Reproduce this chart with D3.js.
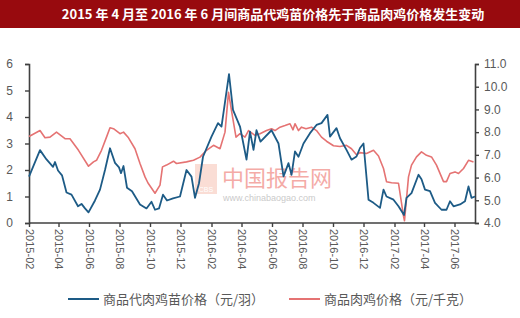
<!DOCTYPE html>
<html>
<head>
<meta charset="utf-8">
<script src="https://cdn.jsdelivr.net/npm/d3@7"></script>
<style>
  body { margin: 0; background: #fff; }
  .canvas text { font-family: "Liberation Sans", Arial, "Noto Sans CJK SC", sans-serif; }
</style>
</head>
<body>
<div class="canvas"></div>
<script>
// 商品代肉鸡苗价格（元/羽）, left axis
const chickDates = ["2015-02-01","2015-02-23","2015-03-08","2015-03-15","2015-03-21","2015-03-25","2015-03-31","2015-04-08","2015-04-17","2015-04-27","2015-05-10","2015-05-17","2015-05-24","2015-05-31","2015-06-13","2015-06-23","2015-07-03","2015-07-13","2015-07-23","2015-07-31","2015-08-04","2015-08-09","2015-08-16","2015-08-26","2015-09-11","2015-09-24","2015-10-04","2015-10-11","2015-10-19","2015-10-27","2015-11-04","2015-11-16","2015-11-30","2015-12-13","2015-12-23","2015-12-30","2016-01-07","2016-01-15","2016-02-01","2016-02-14","2016-02-21","2016-03-07","2016-03-15","2016-03-29","2016-04-11","2016-04-18","2016-04-25","2016-05-01","2016-05-09","2016-05-31","2016-06-14","2016-06-24","2016-07-04","2016-07-10","2016-07-17","2016-07-24","2016-08-03","2016-08-16","2016-08-29","2016-09-08","2016-09-20","2016-09-25","2016-10-08","2016-10-15","2016-10-28","2016-11-07","2016-11-17","2016-11-24","2016-12-01","2016-12-11","2016-12-21","2017-01-03","2017-01-10","2017-01-16","2017-01-30","2017-02-09","2017-02-20","2017-02-25","2017-03-07","2017-03-21","2017-03-27","2017-04-03","2017-04-13","2017-04-23","2017-05-06","2017-05-16","2017-05-23","2017-05-30","2017-06-12","2017-06-22","2017-06-29","2017-07-05","2017-07-12"];
const chickPrice = [1.75,2.75,2.4,2.25,2.12,2.3,1.98,1.8,1.15,1.07,0.63,0.72,0.55,0.4,0.85,1.26,2.0,2.82,2.27,2.1,1.88,2.15,1.33,1.2,0.7,0.55,0.8,0.5,0.55,1.07,0.85,0.93,1.0,2.0,1.75,0.95,1.5,2.5,3.26,3.77,3.64,5.62,4.27,3.64,2.39,3.45,2.76,3.5,3.07,3.5,3.0,1.76,2.26,1.82,2.7,2.5,3.0,3.39,3.7,3.77,4.08,3.26,3.58,3.2,2.76,2.39,2.51,2.83,3.0,0.88,0.76,0.57,1.26,1.0,0.88,0.63,0.3,0.95,1.13,1.82,1.65,1.26,1.2,0.76,0.5,0.5,0.82,0.63,0.7,0.82,1.38,0.95,1.0];

// 商品肉鸡价格（元/千克）, right axis
const broilerDates = ["2015-02-01","2015-02-23","2015-03-05","2015-03-15","2015-03-28","2015-04-14","2015-04-24","2015-05-11","2015-05-31","2015-06-10","2015-06-16","2015-06-26","2015-07-06","2015-07-13","2015-07-20","2015-08-02","2015-08-09","2015-08-19","2015-09-01","2015-09-11","2015-09-21","2015-09-27","2015-10-11","2015-10-21","2015-10-26","2015-11-03","2015-11-17","2015-11-23","2015-12-13","2015-12-27","2016-01-09","2016-01-22","2016-02-05","2016-02-18","2016-02-28","2016-03-06","2016-03-12","2016-03-21","2016-03-29","2016-04-08","2016-04-15","2016-04-28","2016-05-08","2016-05-21","2016-05-31","2016-06-07","2016-06-17","2016-06-27","2016-07-07","2016-07-13","2016-07-17","2016-07-24","2016-07-30","2016-08-08","2016-08-19","2016-08-29","2016-09-08","2016-09-18","2016-10-02","2016-10-15","2016-10-28","2016-11-07","2016-11-17","2016-11-24","2016-12-07","2016-12-21","2016-12-31","2017-01-10","2017-01-16","2017-01-26","2017-02-09","2017-02-19","2017-02-21","2017-03-01","2017-03-07","2017-03-17","2017-03-27","2017-04-06","2017-04-16","2017-04-26","2017-05-10","2017-05-16","2017-05-23","2017-06-02","2017-06-09","2017-06-19","2017-06-29","2017-07-09"];
const broilerPrice = [7.81,8.07,7.75,7.78,8.0,7.71,7.71,7.2,6.5,6.69,6.76,7.2,7.78,8.19,8.15,7.93,8.0,7.75,7.27,6.62,6.03,5.76,5.31,5.67,6.47,6.55,6.72,6.62,6.69,6.76,6.9,7.2,7.42,7.27,8.0,9.75,8.95,7.78,7.93,7.78,8.07,7.86,7.93,8.07,8.15,8.07,8.22,8.29,8.37,8.1,8.37,8.07,8.22,8.15,8.22,8.07,7.78,7.6,7.4,7.37,7.42,7.27,7.0,7.1,7.06,7.2,6.95,6.4,5.82,5.77,5.75,4.3,4.1,6.03,6.55,6.91,7.13,6.98,6.91,6.55,5.82,5.82,6.18,6.25,6.18,6.4,6.76,6.69];

const monthTicks = ["2015-02","2015-04","2015-06","2015-08","2015-10","2015-12","2016-02","2016-04","2016-06","2016-08","2016-10","2016-12","2017-02","2017-04","2017-06"];
const leftTicks = [0, 1, 2, 3, 4, 5, 6];
const rightTicks = [4, 5, 6, 7, 8, 9, 10, 11];

const titleText = "2015 年 4 月至 2016 年 6 月间商品代鸡苗价格先于商品肉鸡价格发生变动";
const seriesNames = ["商品代肉鸡苗价格（元/羽）", "商品肉鸡价格（元/千克）"];

const dims = { width: 520, height: 318 };
const plot = { left: 29, right: 475, top: 64, bottom: 223 };
const colors = { chick: "#1d5b86", broiler: "#e57373", axis: "#404040", label: "#595959" };

const parseDay = d3.timeParse("%Y-%m-%d");
const parseMonth = d3.timeParse("%Y-%m");

const chick = chickDates.map((d, i) => ({ date: parseDay(d), value: chickPrice[i] }));
const broiler = broilerDates.map((d, i) => ({ date: parseDay(d), value: broilerPrice[i] }));

const svg = d3.select(".canvas")
    .append("svg")
    .attr("width", dims.width)
    .attr("height", dims.height);

// title bar
svg.append("rect")
    .attr("x", 0).attr("y", 0)
    .attr("width", dims.width).attr("height", 28)
    .attr("fill", "#980a0e");
svg.append("text")
    .attr("x", 273).attr("y", 19)
    .attr("text-anchor", "middle")
    .attr("fill", "#fff")
    .attr("font-size", 13)
    .attr("font-weight", "bold")
    .style("font-family", "'Noto Sans CJK SC', sans-serif")
    .text(titleText);

const x = d3.scaleTime()
    .domain([parseDay("2015-02-01"), parseDay("2017-07-12")])
    .range([plot.left, plot.right]);
const yLeft = d3.scaleLinear().domain([0, 6]).range([plot.bottom, plot.top]);
const yRight = d3.scaleLinear().domain([4, 11]).range([plot.bottom, plot.top]);

// watermark
const wm = svg.append("g").attr("opacity", 0.45);
wm.append("rect")
    .attr("x", 195).attr("y", 164).attr("width", 22).attr("height", 30)
    .attr("fill", "#f4b6a4");
wm.append("text")
    .attr("x", 206).attr("y", 192).attr("text-anchor", "middle")
    .attr("font-size", 7).attr("fill", "#fff").text("CBS");
wm.append("text")
    .attr("x", 222).attr("y", 186)
    .attr("font-size", 22)
    .attr("fill", "#e8463c")
    .style("font-family", "'Noto Sans CJK SC', sans-serif")
    .text("中国报告网");
wm.append("text")
    .attr("x", 223).attr("y", 201)
    .attr("font-size", 9)
    .attr("fill", "#888")
    .text("www.chinabaogao.com");

// axes
const xAxis = d3.axisBottom(x)
    .tickValues(monthTicks.map(parseMonth))
    .tickSize(4)
    .tickFormat(d3.timeFormat("%Y-%m"));
const gx = svg.append("g")
    .attr("transform", `translate(0,${plot.bottom})`)
    .call(xAxis);
gx.select(".domain").attr("d", `M${plot.left},0H${plot.right}`);
gx.selectAll("text")
    .attr("transform", "rotate(90)")
    .attr("x", 6).attr("y", 0)
    .attr("dy", "0.35em")
    .attr("text-anchor", "start");

const gl = svg.append("g")
    .attr("transform", `translate(${plot.left},0)`)
    .call(d3.axisLeft(yLeft).tickValues(leftTicks).tickSize(4).tickPadding(12).tickFormat(d3.format("d")));

const gr = svg.append("g")
    .attr("transform", `translate(${plot.right},0)`)
    .call(d3.axisRight(yRight).tickValues(rightTicks).tickSize(4).tickPadding(5).tickFormat(d3.format(".1f")));

[gx, gl, gr].forEach((g) => {
    g.selectAll(".domain").attr("stroke", colors.axis).attr("stroke-width", 1.6);
    g.selectAll(".tick line").attr("stroke", colors.axis).attr("stroke-width", 1.4);
    g.selectAll("text").attr("fill", colors.label).attr("font-size", 11)
        .style("font-family", "'Liberation Sans', Arial, sans-serif");
});
gl.selectAll("text").attr("font-size", 12);
gr.selectAll("text").attr("font-size", 12);

// lines
const lineLeft = d3.line().x((d) => x(d.date)).y((d) => yLeft(d.value));
const lineRight = d3.line().x((d) => x(d.date)).y((d) => yRight(d.value));

svg.append("path")
    .datum(broiler)
    .attr("fill", "none")
    .attr("stroke", colors.broiler)
    .attr("stroke-width", 1.6)
    .attr("stroke-linejoin", "round")
    .attr("d", lineRight);

svg.append("path")
    .datum(chick)
    .attr("fill", "none")
    .attr("stroke", colors.chick)
    .attr("stroke-width", 1.8)
    .attr("stroke-linejoin", "round")
    .attr("d", lineLeft);

// legend
const legend = svg.append("g").attr("transform", "translate(0,299)");
const legendItems = [
    { name: seriesNames[0], color: colors.chick, x: 68 },
    { name: seriesNames[1], color: colors.broiler, x: 289 }
];
legendItems.forEach((d) => {
    legend.append("line")
        .attr("x1", d.x).attr("x2", d.x + 31)
        .attr("y1", 0).attr("y2", 0)
        .attr("stroke", d.color).attr("stroke-width", 2);
    legend.append("text")
        .attr("x", d.x + 35).attr("y", 0)
        .attr("dy", "0.35em")
        .attr("font-size", 13)
        .attr("fill", colors.label)
        .style("font-family", "'Noto Sans CJK SC', sans-serif")
        .text(d.name);
});
</script>
</body>
</html>
